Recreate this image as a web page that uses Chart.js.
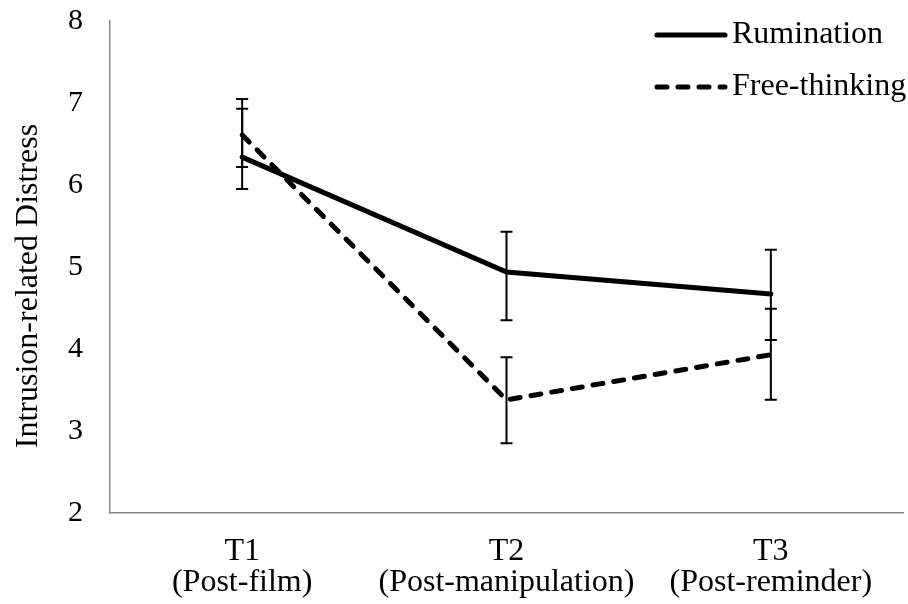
<!DOCTYPE html>
<html lang="en">
<head>
    <meta charset="UTF-8">
    <title>Intrusion-related Distress</title>
    <style>
        html, body { margin: 0; padding: 0; background: #fff; }
        .canvas { width: 908px; height: 604px; }
    </style>
</head>
<body>
    <div class="canvas">
        <canvas id="myChart" width="908" height="604"></canvas>
    </div>
<script src="https://cdn.jsdelivr.net/npm/chart.js"></script>
<script>

    var listaTempos = [['T1', '(Post-film)'], ['T2', '(Post-manipulation)'], ['T3', '(Post-reminder)']];
    var tickY = [2, 3, 4, 5, 6, 7, 8];
    var tituloY = 'Intrusion-related Distress';

    var ruminacao = [6.34, 4.94, 4.67];
    var ruminacaoBaixo = [5.95, 4.35, 4.11];
    var ruminacaoAlto = [6.93, 5.43, 5.21];

    var livre = [6.61, 3.38, 3.93];
    var livreBaixo = [6.22, 2.85, 3.38];
    var livreAlto = [7.05, 3.90, 4.49];

    var fonte = 'Liberation Serif, Times New Roman, serif';

    // barras de erro (min/max)
    const barrasErro = {
        id: 'barrasErro',
        afterDatasetsDraw(chart) {
            const ctx = chart.ctx;
            const x = chart.scales.x, y = chart.scales.y;
            ctx.save();
            ctx.strokeStyle = '#000';
            ctx.lineWidth = 2;
            chart.data.datasets.forEach(ds => {
                for (var i = 0; i < ds.data.length; i++) {
                    var px = x.getPixelForValue(i);
                    var y1 = y.getPixelForValue(ds.baixo[i]);
                    var y2 = y.getPixelForValue(ds.alto[i]);
                    ctx.beginPath();
                    ctx.moveTo(px, y1); ctx.lineTo(px, y2);
                    ctx.moveTo(px - 6, y1); ctx.lineTo(px + 6, y1);
                    ctx.moveTo(px - 6, y2); ctx.lineTo(px + 6, y2);
                    ctx.stroke();
                }
            });
            ctx.restore();
        }
    };

    // legenda no canto superior direito + titulo do eixo y (um pouco abaixo do centro, como no Excel)
    const legenda = {
        id: 'legenda',
        afterDraw(chart) {
            const ctx = chart.ctx;
            ctx.save();
            ctx.font = '32px ' + fonte;
            ctx.fillStyle = '#000';
            ctx.textBaseline = 'middle';
            chart.data.datasets.forEach((ds, i) => {
                var ly = 35 + i * 52;
                ctx.beginPath();
                ctx.strokeStyle = ds.borderColor;
                ctx.lineWidth = ds.borderWidth;
                ctx.lineCap = ds.borderCapStyle || 'butt';
                ctx.setLineDash(ds.borderDash || []);
                ctx.moveTo(657, ly);
                ctx.lineTo(725, ly);
                ctx.stroke();
                ctx.setLineDash([]);
                ctx.fillText(ds.label, 732, ly);
            });

            ctx.translate(29, 286);
            ctx.rotate(-Math.PI / 2);
            ctx.textAlign = 'center';
            ctx.fillText(tituloY, 0, 0);
            ctx.restore();
        }
    };

    function criarGrafico() {
        const ctx = document.getElementById('myChart');

        new Chart(ctx, {
            type: 'line',
            data: {
                labels: listaTempos,
                datasets: [{
                    label: 'Rumination',
                    data: ruminacao,
                    baixo: ruminacaoBaixo,
                    alto: ruminacaoAlto,
                    borderColor: '#000',
                    borderWidth: 5,
                    borderCapStyle: 'round',
                    pointRadius: 0,
                    tension: 0
                }, {
                    label: 'Free-thinking',
                    data: livre,
                    baixo: livreBaixo,
                    alto: livreAlto,
                    borderColor: '#000',
                    borderWidth: 5,
                    borderDash: [10, 11],
                    borderCapStyle: 'round',
                    pointRadius: 0,
                    tension: 0
                }]
            },
            options: {
                responsive: false,
                animation: false,
                layout: { padding: { left: 0, right: 5, top: 21, bottom: 0 } },
                plugins: {
                    legend: { display: false },
                    tooltip: { enabled: false }
                },
                scales: {
                    x: {
                        offset: true,
                        grid: { display: false, drawTicks: false },
                        border: { display: true, color: '#898989', width: 1.5 },
                        ticks: {
                            color: '#000',
                            padding: 23,
                            maxRotation: 0,
                            autoSkip: false,
                            font: { family: fonte, size: 32, lineHeight: 0.97 }
                        },
                        afterFit(scale) {
                            scale.height = 91;
                            scale.paddingLeft = 0;
                            scale.paddingRight = 0;
                        }
                    },
                    y: {
                        min: 2,
                        max: 8,
                        afterBuildTicks(scale) {
                            scale.ticks = tickY.map(v => ({ value: v }));
                        },
                        grid: { display: false, drawTicks: false },
                        border: { display: true, color: '#898989', width: 1.5 },
                        ticks: {
                            color: '#000',
                            padding: 27,
                            font: { family: fonte, size: 30 }
                        },
                        afterFit(scale) {
                            scale.width = 110;
                            scale.paddingTop = 0;
                            scale.paddingBottom = 0;
                        }
                    }
                }
            },
            plugins: [barrasErro, legenda]
        });
    }

    criarGrafico();
</script>
</body>
</html>
